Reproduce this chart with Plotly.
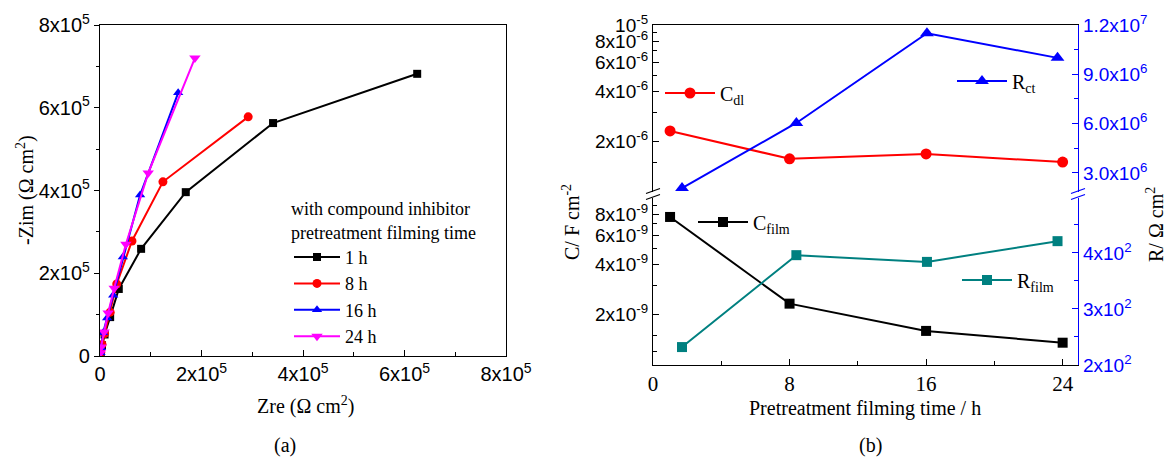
import plotly.graph_objects as go

W, H = 1166, 459
SERIF = "Liberation Serif"
SANS = "Liberation Sans"

# ---------------- (a) Nyquist data, Ω cm² ----------------
zre_1h = [1.5e3, 4e3, 9e3, 2.0e4, 3.7e4, 8.1e4, 1.69e5, 3.41e5, 6.25e5]
zim_1h = [8e3, 2.6e4, 5.2e4, 9.4e4, 1.62e5, 2.59e5, 3.96e5, 5.63e5, 6.82e5]
zre_8h = [1.5e3, 4e3, 9e3, 2.0e4, 3.3e4, 6.3e4, 1.24e5, 2.92e5]
zim_8h = [9e3, 2.8e4, 5.4e4, 1.06e5, 1.74e5, 2.78e5, 4.21e5, 5.78e5]
zre_16h = [1e3, 2e3, 6e3, 1.4e4, 2.6e4, 4.5e4, 7.9e4, 1.54e5]
zim_16h = [8e3, 2.0e4, 5.6e4, 9.2e4, 1.47e5, 2.39e5, 3.89e5, 6.36e5]
zre_24h = [1e3, 2e3, 8e3, 1.6e4, 2.8e4, 5.1e4, 9.5e4, 1.87e5]
zim_24h = [8e3, 2.2e4, 5.8e4, 1.04e5, 1.64e5, 2.70e5, 4.42e5, 7.20e5]

nyq_ticks = [0, 2e5, 4e5, 6e5, 8e5]
nyq_ticktext = ["0", "2x10<sup>5</sup>", "4x10<sup>5</sup>", "6x10<sup>5</sup>", "8x10<sup>5</sup>"]
nyq_minor = [1e5, 3e5, 5e5, 7e5]

# ---------------- (b) fitted parameters ----------------
time_c = [1, 8, 16, 24]
c_dl = [2.32e-6, 1.58e-6, 1.69e-6, 1.51e-6]
c_film = [7.7e-9, 2.33e-9, 1.6e-9, 1.36e-9]
time_r = [1.7, 8.4, 16.05, 23.7]
r_ct = [2.08e6, 6.04e6, 1.15e7, 1.0e7]
r_film = [232, 396, 384, 421]

time_ticks = [0, 8, 16, 24]
time_minor = [4, 12, 20]
cdl_ticks = [2e-6, 4e-6, 6e-6, 8e-6, 1e-5]
cdl_ticktext = ["2x10<sup>-6</sup>", "4x10<sup>-6</sup>", "6x10<sup>-6</sup>",
                "8x10<sup>-6</sup>", "10<sup>-5</sup>"]
cdl_minor = [1.5e-6, 3e-6, 5e-6, 7e-6, 9e-6]
cfilm_ticks = [2e-9, 4e-9, 6e-9, 8e-9]
cfilm_ticktext = ["2x10<sup>-9</sup>", "4x10<sup>-9</sup>", "6x10<sup>-9</sup>", "8x10<sup>-9</sup>"]
cfilm_minor = [1.2e-9, 1.5e-9, 3e-9, 5e-9, 7e-9, 9e-9]
rct_ticks = [3e6, 6e6, 9e6, 1.2e7]
rct_ticktext = ["3.0x10<sup>6</sup>", "6.0x10<sup>6</sup>", "9.0x10<sup>6</sup>", "1.2x10<sup>7</sup>"]
rct_minor = [4.5e6, 7.5e6, 1.05e7]
rfilm_ticks = [200, 300, 400]
rfilm_ticktext = ["2x10<sup>2</sup>", "3x10<sup>2</sup>", "4x10<sup>2</sup>"]
rfilm_minor = [250, 350, 450]


def px(x):
    return x / W


def py(y):
    return 1 - y / H


fig = go.Figure()

nyq_series = [
    ("1 h", zre_1h, zim_1h, "black", "square", 8),
    ("8 h", zre_8h, zim_8h, "#ff0000", "circle", 9),
    ("16 h", zre_16h, zim_16h, "#0000ff", "triangle-up", 9),
    ("24 h", zre_24h, zim_24h, "#ff00ff", "triangle-down", 10),
]
for name, xs, ys, col, sym, size in nyq_series:
    fig.add_trace(go.Scatter(
        x=xs, y=ys, name=name, mode="lines+markers",
        line=dict(color=col, width=2), marker=dict(color=col, symbol=sym, size=size),
        xaxis="x", yaxis="y", legend="legend",
    ))

fig.add_trace(go.Scatter(
    x=time_c, y=c_dl, name="C<sub>dl</sub>", mode="lines+markers",
    line=dict(color="#ff0000", width=2), marker=dict(color="#ff0000", symbol="circle", size=11),
    xaxis="x3", yaxis="y4", legend="legend2"))
fig.add_trace(go.Scatter(
    x=time_r, y=r_ct, name="R<sub>ct</sub>", mode="lines+markers",
    line=dict(color="#0000ff", width=2), marker=dict(color="#0000ff", symbol="triangle-up", size=12),
    xaxis="x3", yaxis="y5", legend="legend3"))
fig.add_trace(go.Scatter(
    x=time_c, y=c_film, name="C<sub>film</sub>", mode="lines+markers",
    line=dict(color="black", width=2), marker=dict(color="black", symbol="square", size=10),
    xaxis="x2", yaxis="y2", legend="legend4"))
fig.add_trace(go.Scatter(
    x=time_r, y=r_film, name="R<sub>film</sub>", mode="lines+markers",
    line=dict(color="#008080", width=2), marker=dict(color="#008080", symbol="square", size=10),
    xaxis="x2", yaxis="y3", legend="legend5"))

axis_common = dict(showgrid=False, zeroline=False, showline=True, linewidth=1.3, automargin=False)

legend_common = dict(bgcolor="rgba(0,0,0,0)", borderwidth=0, xanchor="left", yanchor="middle",
                     itemwidth=50, font=dict(family=SERIF, size=20, color="black"))

fig.update_layout(
    template="none",
    width=W, height=H,
    margin=dict(l=0, r=0, t=0, b=0, autoexpand=False),
    paper_bgcolor="white", plot_bgcolor="white",
    # (a) Nyquist axes
    xaxis=dict(**axis_common, domain=[px(100), px(506)], range=[0, 8e5], anchor="y",
               linecolor="black", mirror=True, ticks="inside", ticklen=6, tickcolor="black",
               tickmode="array", tickvals=nyq_ticks, ticktext=nyq_ticktext,
               minor=dict(tickmode="array", tickvals=nyq_minor, ticks="inside", ticklen=4, tickcolor="black"),
               tickfont=dict(family=SANS, size=20, color="black")),
    yaxis=dict(**axis_common, domain=[py(356), py(25)], range=[0, 8e5], anchor="x",
               linecolor="black", mirror=True, ticks="outside", ticklen=5, tickcolor="black",
               tickmode="array", tickvals=nyq_ticks, ticktext=nyq_ticktext,
               minor=dict(tickmode="array", tickvals=nyq_minor, ticks="outside", ticklen=3, tickcolor="black"),
               tickfont=dict(family=SANS, size=20, color="black")),
    # (b) lower panel: time axis, C_film (log) and R_film
    xaxis2=dict(**axis_common, domain=[px(653), px(1078)], range=[0, 24.9], anchor="y2",
                linecolor="black", ticks="inside", ticklen=6, tickcolor="black",
                tickmode="array", tickvals=time_ticks,
                minor=dict(tickmode="array", tickvals=time_minor, ticks="inside", ticklen=4, tickcolor="black"),
                tickfont=dict(family=SERIF, size=21, color="black")),
    yaxis2=dict(**axis_common, type="log", domain=[py(365), py(198)], range=[-9, -8], anchor="x2",
                linecolor="black", ticks="inside", ticklen=6, tickcolor="black",
                tickmode="array", tickvals=cfilm_ticks, ticktext=cfilm_ticktext,
                minor=dict(tickmode="array", tickvals=cfilm_minor, ticks="inside", ticklen=4, tickcolor="black"),
                tickfont=dict(family=SANS, size=19, color="black")),
    yaxis3=dict(**axis_common, overlaying="y2", side="right", anchor="x2", range=[200, 498],
                linecolor="#0000ff", ticks="inside", ticklen=6, tickcolor="#0000ff",
                tickmode="array", tickvals=rfilm_ticks, ticktext=rfilm_ticktext,
                minor=dict(tickmode="array", tickvals=rfilm_minor, ticks="inside", ticklen=4, tickcolor="#0000ff"),
                tickfont=dict(family=SANS, size=19, color="#0000ff")),
    # (b) upper panel: C_dl (log) and R_ct
    xaxis3=dict(**axis_common, domain=[px(653), px(1078)], range=[0, 24.9], anchor="y4",
                side="top", linecolor="black", ticks="", showticklabels=False, matches="x2"),
    yaxis4=dict(**axis_common, type="log", domain=[py(192), py(25)], range=[-6, -5], anchor="x3",
                linecolor="black", ticks="inside", ticklen=6, tickcolor="black",
                tickmode="array", tickvals=cdl_ticks, ticktext=cdl_ticktext,
                minor=dict(tickmode="array", tickvals=cdl_minor, ticks="inside", ticklen=4, tickcolor="black"),
                tickfont=dict(family=SANS, size=19, color="black")),
    yaxis5=dict(**axis_common, overlaying="y4", side="right", anchor="x3", range=[1.84e6, 1.2e7],
                linecolor="#0000ff", ticks="inside", ticklen=6, tickcolor="#0000ff",
                tickmode="array", tickvals=rct_ticks, ticktext=rct_ticktext,
                minor=dict(tickmode="array", tickvals=rct_minor, ticks="inside", ticklen=4, tickcolor="#0000ff"),
                tickfont=dict(family=SANS, size=19, color="#0000ff")),
    legend=dict(bgcolor="rgba(0,0,0,0)", borderwidth=0, x=px(289), y=py(192),
                xanchor="left", yanchor="top", itemwidth=46, tracegroupgap=0,
                title=dict(text="with compound inhibitor<br>pretreatment filming time",
                           font=dict(family=SERIF, size=18, color="black")),
                font=dict(family=SERIF, size=18, color="black")),
    legend2=dict(**legend_common, x=px(660), y=py(93)),
    legend3=dict(**legend_common, x=px(952), y=py(81)),
    legend4=dict(**legend_common, x=px(693), y=py(222)),
    legend5=dict(**legend_common, x=px(957), y=py(280)),
)


def label(text, x, y, size=20, angle=0, family=SERIF, color="black"):
    fig.add_annotation(text=text, x=px(x), y=py(y), xref="paper", yref="paper",
                       showarrow=False, xanchor="center", yanchor="middle", textangle=angle,
                       font=dict(family=family, size=size, color=color))


label("Zre (\u03a9 cm<sup>2</sup>)", 305, 405)
label("-Zim (\u03a9 cm<sup>2</sup>)", 25, 190, angle=-90)
label("(a)", 285, 445)
label("Pretreatment filming time / h", 865, 408)
label("C/ F cm<sup>-2</sup>", 571, 222, angle=-90)
label("R/ \u03a9 cm<sup>2</sup>", 1155, 225, angle=-90)
label("(b)", 870, 445)

# axis-break marks on both sides of panel (b)
for xc in (653, 1078):
    for yc in (191, 197):
        fig.add_shape(type="line", xref="paper", yref="paper",
                      x0=px(xc - 7), y0=py(yc + 2.5), x1=px(xc + 7), y1=py(yc - 2.5),
                      line=dict(color="black" if xc == 653 else "#0000ff", width=1.3))

fig.write_html("out.html")
